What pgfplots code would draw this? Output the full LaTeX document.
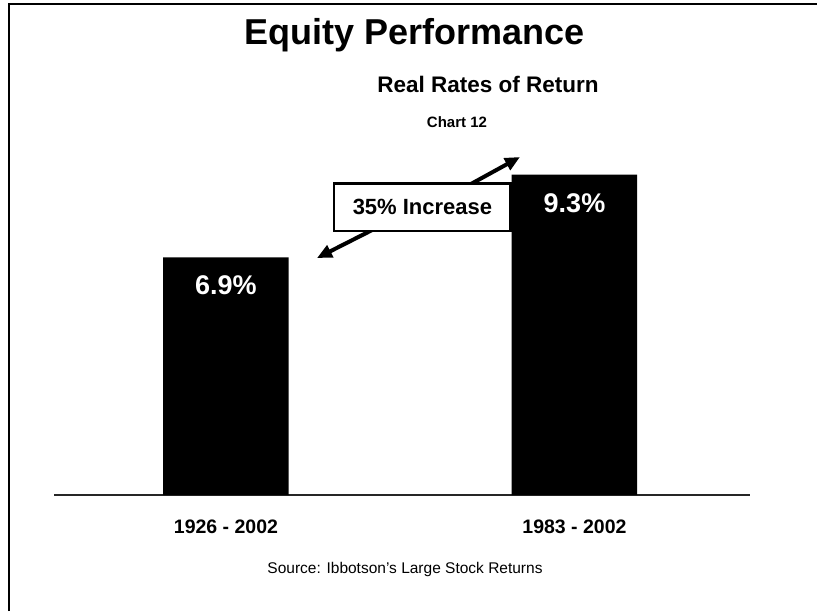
\documentclass[border=0pt]{standalone}
\usepackage{pgfplots}
\pgfplotsset{compat=1.18}
\usepackage{fontspec}
\setmainfont{Liberation Sans}
\usetikzlibrary{arrows.meta}
\begin{document}
\begin{tikzpicture}[x=1pt,y=1pt]
\useasboundingbox (0,0) rectangle (817,-611);
\fill[white] (0,0) rectangle (817,-611);
\draw[line width=2pt] (9,-611) -- (9,-3.5) -- (817,-3.5);
\node[anchor=base, inner sep=0pt, font=\bfseries\fontsize{36}{40}\selectfont] at (415,-44) {Equity Performance};
\node[anchor=base, inner sep=0pt, font=\bfseries\fontsize{22.5}{26}\selectfont] at (488,-92) {Real Rates of Return};
\node[anchor=base, inner sep=0pt, font=\bfseries\fontsize{15}{18}\selectfont] at (457,-127) {Chart 12};
\node[anchor=base, inner sep=0pt, font=\fontsize{15.5}{18}\selectfont] at (405,-573) {Source: Ibbotson's Large Stock Returns};
\begin{axis}[
  at={(54pt,-495pt)}, anchor=south west,
  width=696pt, height=395pt, scale only axis,
  xmin=-0.4935, xmax=1.5036, ymin=0, ymax=11.466,
  axis x line=bottom, axis y line=none,
  x axis line style={-, line width=1.2pt, black!85},
  ybar, bar width=125.5pt,
  xtick={0,1}, xticklabels={1926 - 2002, 1983 - 2002},
  major tick length=0pt,
  ytick=\empty,
  xticklabel style={anchor=base, yshift=-38pt, font=\bfseries\fontsize{19.5}{22}\selectfont},
  clip=false,
]
\addplot[fill=black, draw=none, point meta=explicit symbolic, nodes near coords,
  every node near coord/.append style={anchor=base, yshift=-37.5pt, text=white, font=\bfseries\fontsize{27}{30}\selectfont}]
  coordinates {(0,6.9) [6.9\%] (1,9.3) [9.3\%]};
\draw[line width=4pt, -{Triangle[length=15pt,width=13pt]}] (axis cs:0.46,7.9) -- (axis cs:0.2611,6.879);
\draw[line width=4pt, -{Triangle[length=15pt,width=13pt]}] (axis cs:0.68,8.9) -- (axis cs:0.8436,9.811);
\node[draw, line width=2.5pt, fill=white, minimum width=176.5pt, minimum height=47.5pt, inner sep=0pt,
  font=\bfseries\fontsize{22}{26}\selectfont] at (axis cs:0.5638,8.36) {35\% Increase};
\end{axis}
\end{tikzpicture}
\end{document}
